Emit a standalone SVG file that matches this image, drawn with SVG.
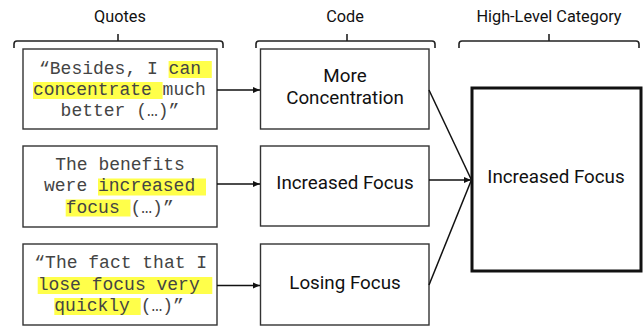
<svg xmlns="http://www.w3.org/2000/svg" width="644" height="327" viewBox="0 0 644 327">
<style>
.hdr{font-family:Roboto,"Liberation Sans",sans-serif;font-size:16.3px;fill:#111;text-anchor:middle}
.code{font-family:Roboto,"Liberation Sans",sans-serif;font-size:18.8px;fill:#111;text-anchor:middle}
.q{font-family:"Liberation Mono","Courier New",monospace;font-size:18px;fill:#444}
.box{fill:#fff;stroke:#333;stroke-width:1.4}
.big{fill:#fff;stroke:#111;stroke-width:3}
.hl{fill:#ffff4a}
.brace{fill:none;stroke:#222;stroke-width:1.6}
.conn{fill:none;stroke:#111;stroke-width:1.5}
</style>
<defs>
<marker id="ah" markerWidth="8" markerHeight="8" refX="7" refY="4" orient="auto" markerUnits="userSpaceOnUse">
<path d="M0,1 L7,4 L0,7 Z" fill="#111"/>
</marker>
</defs>
<g id="headers">
<text class="hdr" x="120" y="22">Quotes</text>
<path class="brace" d="M14,48 V44 Q14,41 17,41 H220 Q223,41 223,44 V48 M118,41 V34"/>
<text class="hdr" x="345" y="22">Code</text>
<path class="brace" d="M256,48 V44 Q256,41 259,41 H432 Q435,41 435,44 V48 M347,41 V34"/>
<text class="hdr" x="549" y="22">High-Level Category</text>
<path class="brace" d="M459,48 V44 Q459,41 462,41 H636 Q639,41 639,44 V48 M549,41 V34"/>
</g>
<g id="quote1">
<rect class="box" x="23" y="49" width="194" height="80"/>
<rect class="hl" x="168.6" y="61" width="43.2" height="17"/>
<rect class="hl" x="33" y="82" width="129.6" height="17"/>
<text class="q" x="39" y="73.5">“Besides, I can</text>
<text class="q" x="33" y="94.5">concentrate much</text>
<text class="q" x="60.6" y="116">better (…)”</text>
</g>
<g id="quote2">
<rect class="box" x="23" y="146" width="194" height="81"/>
<text class="q" x="55.2" y="169.5">The benefits</text>
<rect class="hl" x="98" y="178.5" width="108" height="17"/>
<rect class="hl" x="65.7" y="199.5" width="64.8" height="17"/>
<text class="q" x="44" y="191">were increased</text>
<text class="q" x="65.7" y="212.5">focus (…)”</text>
</g>
<g id="quote3">
<rect class="box" x="23" y="244" width="194" height="81"/>
<text class="q" x="34.3" y="268">“The fact that I</text>
<rect class="hl" x="37.7" y="277" width="174.6" height="17"/>
<rect class="hl" x="54.3" y="298" width="86.4" height="17"/>
<text class="q" x="37.7" y="290">lose focus very</text>
<text class="q" x="54.3" y="310.5">quickly (…)”</text>
</g>
<g id="code1">
<rect class="box" x="260.5" y="49" width="168.5" height="80"/>
<text class="code" x="345" y="82">More</text>
<text class="code" x="345" y="104">Concentration</text>
</g>
<g id="code2">
<rect class="box" x="260.5" y="146" width="168.5" height="80"/>
<text class="code" x="345" y="189">Increased Focus</text>
</g>
<g id="code3">
<rect class="box" x="260.5" y="244" width="168.5" height="81"/>
<text class="code" x="345" y="289">Losing Focus</text>
</g>
<g id="category">
<rect class="big" x="472" y="88" width="169" height="183"/>
<text class="code" x="556" y="183">Increased Focus</text>
</g>
<g id="connectors">
<line class="conn" x1="217" y1="90" x2="260" y2="90" marker-end="url(#ah)"/>
<line class="conn" x1="217" y1="184" x2="260" y2="184" marker-end="url(#ah)"/>
<line class="conn" x1="217" y1="285.5" x2="260" y2="285.5" marker-end="url(#ah)"/>
<line class="conn" x1="429" y1="90" x2="471" y2="179"/>
<line class="conn" x1="429" y1="180" x2="471" y2="180" marker-end="url(#ah)"/>
<line class="conn" x1="429" y1="285" x2="471" y2="181"/>
</g>
</svg>
